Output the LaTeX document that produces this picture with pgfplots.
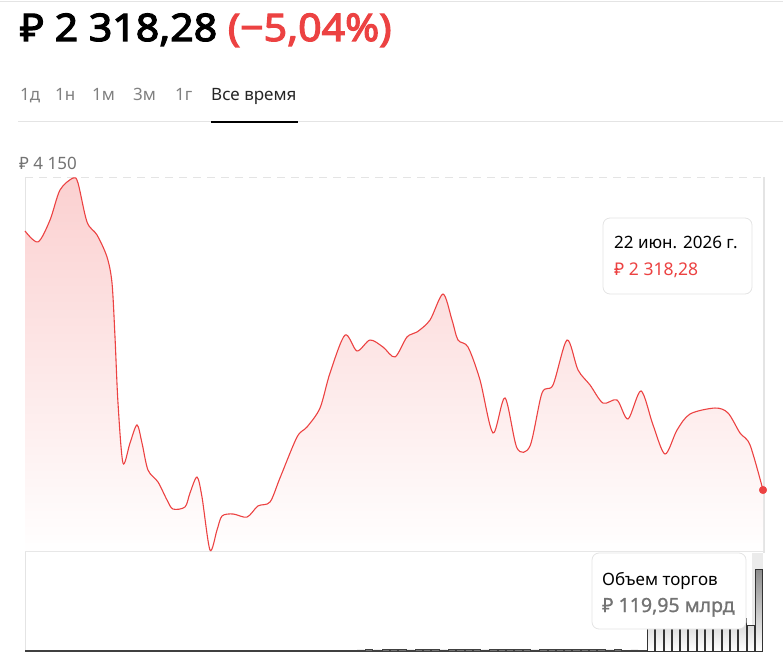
\documentclass[border=0pt]{standalone}
\usepackage{fontspec}
\setmainfont{Noto Sans}
\newfontfamily\titlefont{Noto Sans}[FakeBold=3.2, FakeStretch=1.08]
\newfontfamily\semifont{Noto Sans}[FakeBold=1]
\usepackage{pgfplots}
\pgfplotsset{compat=1.18}
\definecolor{redc}{RGB}{236,66,66}
\definecolor{fillred}{RGB}{251,208,208}
\definecolor{tabgray}{RGB}{128,128,128}
\definecolor{lgray}{RGB}{228,228,228}
\definecolor{dgray}{RGB}{115,115,115}
\pgfplotstableread{
x v
25 3834
38 3770
50 3898
60 4074
73 4144
78 4115
87 3887
97 3811
107 3682
112 3530
115 3214
118 2827
123 2476
130 2593
137 2699
142 2593
148 2435
158 2365
167 2260
173 2207
185 2219
190 2301
197 2394
202 2277
210 1967
217 2084
222 2166
233 2178
247 2160
258 2225
270 2248
280 2389
297 2628
307 2687
320 2798
330 3003
345 3225
357 3132
370 3196
383 3155
395 3097
407 3214
417 3243
430 3313
443 3465
452 3313
458 3196
468 3155
480 2962
493 2652
505 2857
517 2564
530 2576
542 2886
553 2933
567 3196
578 3021
590 2933
603 2827
617 2845
628 2734
641 2898
653 2699
665 2529
677 2669
690 2763
715 2798
728 2769
740 2652
750 2582
763 2318.28
}\price
\pgfplotstableread{
i v
0 0.8
1 0.8
2 0.8
3 0.8
4 0.8
5 0.8
6 0.8
7 0.8
8 0.8
9 0.8
10 0.8
11 0.8
12 0.8
13 0.8
14 0.8
15 0.8
16 0.8
17 0.8
18 0.8
19 0.8
20 0.8
21 0.8
22 0.8
23 0.8
24 0.8
25 0.8
26 0.8
27 0.8
28 0.8
29 0.8
30 0.8
31 0.8
32 0.8
33 0.8
34 0.8
35 0.8
36 0.8
37 0.8
38 0.8
39 0.8
40 1.6
41 1.8
42 1.6
43 1.8
44 2.4
45 1.8
46 1.6
47 1.8
48 2.2
49 1.8
50 1.6
51 1.8
52 2.8
53 1.8
54 1.8
55 1.6
56 1.8
57 2.6
58 2.2
59 1.8
60 1.8
61 1.6
62 1.8
63 2.6
64 1.8
65 2.2
66 1.8
67 2.2
68 2.6
69 1.8
70 1.6
71 1.8
72 1.4
73 1.6
74 1.4
}\volsmall
\pgfplotstableread{
i v
75 42
76 46
77 44
78 48
79 45
80 50
81 47
82 52
83 49
84 46
85 51
86 48
87 38
88 119.95
}\volbig
\begin{document}
\begin{tikzpicture}
\begin{scope}[x=1pt,y=-1pt]
\useasboundingbox (0,0) rectangle (783,663);
% header
\draw[lgray, line width=0.8pt] (0,1) -- (783,1);
\node[anchor=base west, inner sep=0pt, font=\fontsize{38}{40}\selectfont\titlefont] at (20,41) {₽ 2 318,28 \textcolor{redc}{(−5,04\%)}};
\begin{scope}[every node/.style={anchor=base west, inner sep=0pt, font=\fontsize{17}{19}\selectfont, text=tabgray}]
\node at (20,101) {1д};
\node at (55,101) {1н};
\node at (92,101) {1м};
\node at (133,101) {3м};
\node at (175,101) {1г};
\node[text=black!85] at (211,101) {Все время};
\end{scope}
\draw[lgray, line width=1pt] (18,122) -- (783,122);
\draw[black, line width=1.5pt] (211,122) -- (298,122);
\node[anchor=base west, inner sep=0pt, font=\fontsize{17}{19}\selectfont, text=dgray] at (19,169) {₽ 4 150};
% frame lines
\draw[lgray, line width=0.8pt] (25,177) -- (25,651);
\draw[lgray, line width=0.8pt] (25,551) -- (763,551);
\draw[lgray, line width=1pt, dash pattern=on 8pt off 6pt] (25,177) -- (763,177);
\draw[lgray, line width=2pt] (763.5,177) -- (763.5,553);
\fill[black!8] (752,553) rectangle (763,651);
\end{scope}
\begin{axis}[at={(25pt,-551pt)}, anchor=south west, scale only axis,
  width=738pt, height=374pt, xmin=25, xmax=763, ymin=1961.3, ymax=4150,
  axis lines=none, clip=false]
\addplot[draw=none, top color=fillred, bottom color=white, smooth] table[x=x,y=v] {\price} \closedcycle;
\addplot[redc, line width=1.1pt, smooth] table[x=x,y=v] {\price};
\addplot[only marks, mark=*, mark size=3.8pt, redc] coordinates {(763,2318.28)};
\end{axis}
\begin{axis}[at={(25pt,-651pt)}, anchor=south west, scale only axis,
  width=738pt, height=100pt, xmin=-0.5, xmax=88.5, ymin=0, ymax=146.3,
  axis lines=none, ybar, bar width=7.3pt, bar shift=0pt, clip=false]
\addplot[draw=black!75, line width=0.8pt, fill=black!55] table[x=i,y=v] {\volsmall};
\addplot[draw=black!80, line width=0.8pt, top color=black!45, bottom color=white] table[x=i,y=v] {\volbig};
\end{axis}
\begin{scope}[x=1pt,y=-1pt]
\draw[lgray, fill=white, rounded corners=7pt, line width=0.8pt] (603,218) rectangle (752,294);
\node[anchor=base west, inner sep=0pt, font=\fontsize{17}{19}\selectfont] at (614,248) {22 июн. 2026 г.};
\node[anchor=base west, inner sep=0pt, font=\fontsize{17.5}{19}\selectfont, text=redc] at (614,275) {₽ 2 318,28};
\draw[lgray, fill=white, rounded corners=7pt, line width=0.8pt] (592,553) rectangle (746,629);
\node[anchor=base west, inner sep=0pt, font=\fontsize{17}{19}\selectfont] at (602,585) {Объем торгов};
\node[anchor=base west, inner sep=0pt, font=\fontsize{19.5}{22}\selectfont\semifont, text=dgray] at (602,612) {₽ 119,95 млрд};
\end{scope}
\end{tikzpicture}
\end{document}
